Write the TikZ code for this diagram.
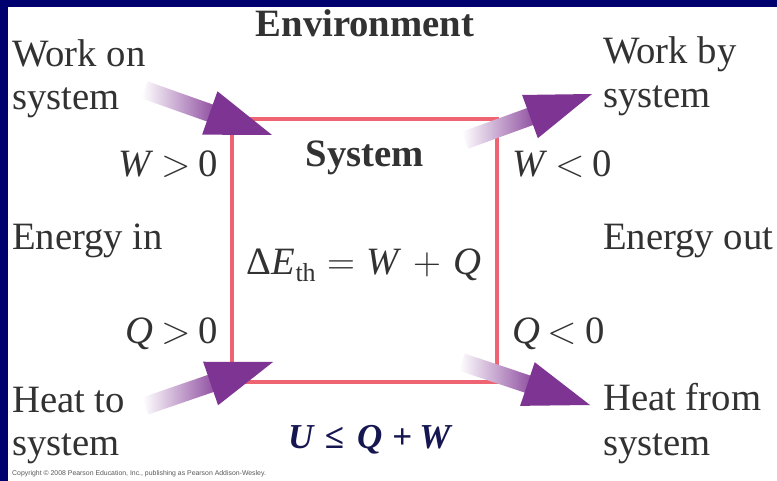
\documentclass[tikz,border=0pt]{standalone}
\usepackage{fontspec}
\setmainfont{Liberation Serif}
\newfontfamily\sansf{Liberation Sans}
\newfontfamily\lmr{Latin Modern Roman}
\newcommand{\msym}[1]{{\lmr #1}}
\definecolor{navybg}{RGB}{0,0,110}
\definecolor{boxred}{RGB}{238,100,115}
\definecolor{arrowpurple}{RGB}{126,52,146}
\definecolor{txt}{RGB}{50,50,50}
\definecolor{eqnavy}{RGB}{22,22,80}
\tikzset{
  lbl/.style={inner sep=0pt, text=txt, font=\fontsize{38.7}{42}\selectfont},
  bold lbl/.style={lbl, font=\fontsize{38.7}{42}\selectfont\bfseries},
  energyarrow/.pic={
    \shade[left color=white, right color=arrowpurple]
      (-135,-9) -- (-52,-9) -- (-52,9) -- (-135,9) -- cycle;
    \fill[arrowpurple] (-66,-23) -- (0,0) -- (-66,23) -- cycle;
  }
}
\begin{document}
\begin{tikzpicture}[x=1pt,y=-1pt]
\useasboundingbox (0,0) rectangle (777,481);
\fill[navybg] (0,0) rectangle (777,481);
\fill[white] (8,7) rectangle (777,481);

% system box
\node[draw=boxred, line width=4pt, minimum width=265pt, minimum height=263pt,
      inner sep=0pt] (sys) at (364.5,250.5) {};

% arrows
\coordinate (tipWon)  at (272,135);
\coordinate (tipWby)  at (592,94);
\coordinate (tipQto)  at (273,362);
\coordinate (tipQfr)  at (590,405);
\pic[rotate=-19.5] at (tipWon) {energyarrow};
\pic[rotate=20]    at (tipWby) {energyarrow};
\pic[rotate=19]    at (tipQto) {energyarrow};
\pic[rotate=-18.5] at (tipQfr) {energyarrow};

% headings
\node[bold lbl, anchor=base] (env) at (365,37) {Environment};
\node[bold lbl, anchor=base] (systitle) at (365,167) {System};
\node[lbl, anchor=base] (eq) at (364,275)
  {Δ\textit{E}\raisebox{-0.35ex}{\fontsize{26}{26}\selectfont th}\hspace{0.3em}\msym{=}\hspace{0.3em}\textit{W}\hspace{0.3em}\msym{+}\hspace{0.3em}\textit{Q}};

% left labels
\node[lbl, anchor=base west] (won1) at (12,67) {Work on};
\node[lbl, anchor=base west] (won2) at (12,110) {system};
\node[lbl, anchor=base east] (wpos) at (218,177) {\textit{W}\hspace{0.2em}\msym{>}\hspace{0.2em}0};
\node[lbl, anchor=base west] (ein) at (12,250) {Energy in};
\node[lbl, anchor=base east] (qpos) at (218,343) {\textit{Q}\hspace{0.2em}\msym{>}\hspace{0.2em}0};
\node[lbl, anchor=base west] (hto1) at (12,412) {Heat to};
\node[lbl, anchor=base west] (hto2) at (12,455) {system};

% right labels
\node[lbl, anchor=base west] (wby1) at (603,64) {Work by};
\node[lbl, anchor=base west] (wby2) at (603,108) {system};
\node[lbl, anchor=base west] (wneg) at (512,177) {\textit{W}\hspace{0.2em}\msym{<}\hspace{0.2em}0};
\node[lbl, anchor=base west] (eout) at (603,250) {Energy out};
\node[lbl, anchor=base west] (qneg) at (512,343) {\textit{Q}\hspace{0.2em}\msym{<}\hspace{0.2em}0};
\node[lbl, anchor=base west] (hfr1) at (603,410) {Heat from};
\node[lbl, anchor=base west] (hfr2) at (603,455) {system};

% bottom equation
\node[inner sep=0pt, text=eqnavy, font=\fontsize{35}{37}\selectfont\bfseries, anchor=base west] (ueq) at (288,448)
  {\textit{U}\hspace{10pt}≤\hspace{13pt}\textit{Q}\hspace{10pt}+\hspace{7pt}\textit{W}};

% copyright
\node[inner sep=0pt, text=black!65, font=\sansf\fontsize{6.9}{8}\selectfont, anchor=base west] (copy) at (12,475)
  {Copyright © 2008 Pearson Education, Inc., publishing as Pearson Addison-Wesley.};
\end{tikzpicture}
\end{document}
